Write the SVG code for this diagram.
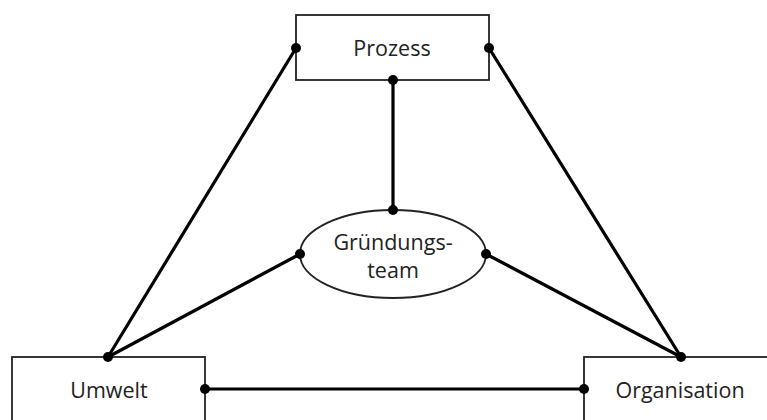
<svg xmlns="http://www.w3.org/2000/svg" width="767" height="420" viewBox="0 0 767 420">
  <style>
    .box { fill: #fff; stroke: #222; stroke-width: 1.8; }
    .link { stroke: #000; stroke-width: 3.2; stroke-linecap: round; fill: none; }
    .dot { fill: #000; }
    .lbl { font-family: "Open Sans", "Liberation Sans", sans-serif; font-size: 21.5px; fill: #222; text-anchor: middle; }
  </style>
  <rect width="767" height="420" fill="#fff"/>
  <g id="connectors">
    <line class="link" x1="296" y1="48" x2="108" y2="357"/>
    <line class="link" x1="489" y1="48" x2="681" y2="357"/>
    <line class="link" x1="393" y1="80" x2="393" y2="210"/>
    <line class="link" x1="300" y1="254" x2="108" y2="357"/>
    <line class="link" x1="486" y1="254" x2="681" y2="357"/>
    <line class="link" x1="205" y1="389" x2="584" y2="389"/>
  </g>
  <g id="prozess">
    <rect class="box" x="296" y="15" width="193" height="65"/>
    <text class="lbl" x="392" y="56">Prozess</text>
  </g>
  <g id="gruendungsteam">
    <ellipse class="box" cx="393" cy="254" rx="93" ry="44"/>
    <text class="lbl" x="393" y="250">Gründungs-</text>
    <text class="lbl" x="393" y="278">team</text>
  </g>
  <g id="umwelt">
    <rect class="box" x="12" y="357" width="193" height="80"/>
    <text class="lbl" x="109" y="398">Umwelt</text>
  </g>
  <g id="organisation">
    <rect class="box" x="584" y="357" width="200" height="80"/>
    <text class="lbl" x="680" y="398">Organisation</text>
  </g>
  <g id="ports">
    <circle class="dot" cx="296" cy="48" r="5"/>
    <circle class="dot" cx="489" cy="48" r="5"/>
    <circle class="dot" cx="393" cy="80" r="5"/>
    <circle class="dot" cx="393" cy="210" r="5"/>
    <circle class="dot" cx="300" cy="254" r="5"/>
    <circle class="dot" cx="486" cy="254" r="5"/>
    <circle class="dot" cx="108" cy="357" r="5"/>
    <circle class="dot" cx="681" cy="357" r="5"/>
    <circle class="dot" cx="205" cy="389" r="5"/>
    <circle class="dot" cx="584" cy="389" r="5"/>
  </g>
</svg>
